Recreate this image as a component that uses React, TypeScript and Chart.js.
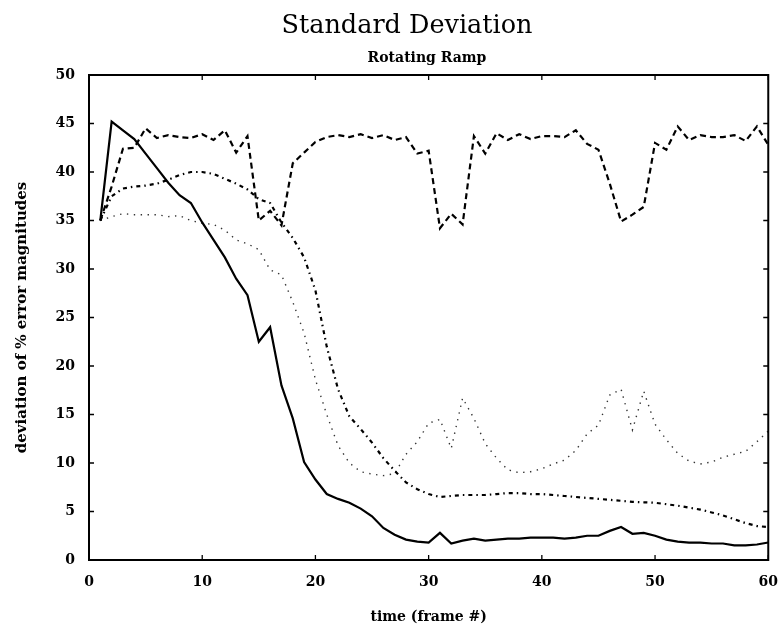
import React, { useEffect, useRef } from "react";
import { Chart, registerables } from "chart.js";

Chart.register(...registerables);

const titleText = "Standard Deviation";
const subtitleText = "Rotating Ramp";
const xAxisTitle = "time (frame #)";
const yAxisTitle = "deviation of % error magnitudes";

const frames = [
  1, 2, 3, 4, 5, 6, 7, 8, 9, 10, 11, 12, 13, 14, 15, 16, 17, 18, 19, 20,
  21, 22, 23, 24, 25, 26, 27, 28, 29, 30, 31, 32, 33, 34, 35, 36, 37, 38, 39, 40,
  41, 42, 43, 44, 45, 46, 47, 48, 49, 50, 51, 52, 53, 54, 55, 56, 57, 58, 59, 60,
];

const solidSeries = [
  35, 45.2, 44.3, 43.4, 41.9, 40.4, 38.9, 37.6, 36.8, 34.8,
  33.0, 31.2, 29.0, 27.3, 22.5, 24.0, 18.0, 14.6, 10.1, 8.3,
  6.8, 6.3, 5.9, 5.3, 4.5, 3.3, 2.6, 2.1, 1.9, 1.8,
  2.8, 1.7, 2.0, 2.2, 2.0, 2.1, 2.2, 2.2, 2.3, 2.3,
  2.3, 2.2, 2.3, 2.5, 2.5, 3.0, 3.4, 2.7, 2.8, 2.5,
  2.1, 1.9, 1.8, 1.8, 1.7, 1.7, 1.5, 1.5, 1.6, 1.8,
];

const dashedSeries = [
  35, 38.5, 42.4, 42.5, 44.5, 43.5, 43.8, 43.6, 43.5, 43.9,
  43.3, 44.3, 42.0, 43.7, 35.0, 36.0, 34.5, 40.9, 42.0, 43.1,
  43.6, 43.8, 43.6, 43.9, 43.5, 43.8, 43.3, 43.6, 41.9, 42.2,
  34.2, 35.7, 34.6, 43.7, 41.9, 44.0, 43.3, 43.9, 43.4, 43.7,
  43.7, 43.6, 44.3, 42.9, 42.3, 38.8, 34.9, 35.6, 36.4, 43.0,
  42.3, 44.7, 43.3, 43.8, 43.6, 43.6, 43.8, 43.2, 44.7, 42.8,
];

const dashDotSeries = [
  35, 37.5, 38.3, 38.5, 38.6, 38.8, 39.2, 39.7, 40.0, 40.0,
  39.8, 39.3, 38.8, 38.2, 37.2, 36.8, 34.8, 33.2, 31.2, 27.8,
  22.0, 17.6, 14.8, 13.5, 12.1, 10.5, 9.2, 8.0, 7.3, 6.8,
  6.5, 6.6, 6.7, 6.7, 6.7, 6.8, 6.9, 6.9, 6.8, 6.8,
  6.7, 6.6, 6.5, 6.4, 6.3, 6.2, 6.1, 6.0, 5.95, 5.9,
  5.75, 5.6, 5.4, 5.2, 4.9, 4.6, 4.2, 3.8, 3.5, 3.4,
];

const dottedSeries = [
  35, 35.4, 35.7, 35.6, 35.6, 35.6, 35.4, 35.5, 35.0, 34.7,
  34.6, 34.0, 33.0, 32.6, 32.0, 29.9, 29.4, 26.6, 23.4, 18.6,
  15.0, 11.8, 10.0, 9.1, 8.85, 8.7, 8.9, 10.9, 12.2, 14.1,
  14.5, 11.5, 16.7, 14.6, 12.0, 10.5, 9.3, 9.0, 9.1, 9.4,
  9.9, 10.3, 11.3, 13.0, 13.9, 17.0, 17.6, 13.4, 17.4, 14.0,
  12.4, 11.0, 10.2, 9.9, 10.1, 10.6, 10.9, 11.2, 12.2, 13.3,
];

const xTickValues = [0, 10, 20, 30, 40, 50, 60];
const yTickValues = [0, 5, 10, 15, 20, 25, 30, 35, 40, 45, 50];

const toPoints = (vals: number[]) => frames.map((f, i) => ({ x: f, y: vals[i] }));

const framePlugin = {
  id: "frameTicksTitles",
  afterDraw(chart: any) {
    const { ctx, chartArea, scales } = chart;
    const { left, right, top, bottom } = chartArea;
    const x = scales.x;
    const y = scales.y;
    ctx.save();
    ctx.strokeStyle = "#000";
    ctx.lineWidth = 2;
    ctx.strokeRect(left, top, right - left, bottom - top);
    ctx.lineWidth = 1.3;
    ctx.beginPath();
    for (const v of xTickValues) {
      const px = x.getPixelForValue(v);
      ctx.moveTo(px, bottom);
      ctx.lineTo(px, bottom - 5);
      ctx.moveTo(px, top);
      ctx.lineTo(px, top + 5);
    }
    for (const v of yTickValues) {
      const py = y.getPixelForValue(v);
      ctx.moveTo(left, py);
      ctx.lineTo(left + 5, py);
      ctx.moveTo(right, py);
      ctx.lineTo(right - 5, py);
    }
    ctx.stroke();
    ctx.fillStyle = "#000";
    ctx.textAlign = "center";
    ctx.textBaseline = "alphabetic";
    ctx.font = '25.5px "DejaVu Serif"';
    ctx.fillText(titleText, 407, 33);
    ctx.font = 'bold 14px "DejaVu Serif"';
    ctx.fillText(subtitleText, 427, 62);
    ctx.restore();
  },
};

export default function App() {
  const canvasRef = useRef<HTMLCanvasElement | null>(null);

  useEffect(() => {
    const canvas = canvasRef.current;
    if (!canvas) return;
    const chart = new Chart(canvas, {
      type: "line",
      data: {
        datasets: [
          {
            label: "solid",
            data: toPoints(solidSeries),
            borderColor: "#000",
            borderWidth: 2.2,
            pointRadius: 0,
            tension: 0,
          },
          {
            label: "dashed",
            data: toPoints(dashedSeries),
            borderColor: "#000",
            borderWidth: 2.2,
            borderDash: [6, 4],
            pointRadius: 0,
            tension: 0,
          },
          {
            label: "dashdot",
            data: toPoints(dashDotSeries),
            borderColor: "#000",
            borderWidth: 2.2,
            borderDash: [4, 4, 1.5, 4],
            pointRadius: 0,
            tension: 0,
          },
          {
            label: "dotted",
            data: toPoints(dottedSeries),
            borderColor: "#333",
            borderWidth: 1.4,
            borderDash: [1.4, 5.5],
            pointRadius: 0,
            tension: 0,
          },
        ],
      },
      options: {
        animation: false,
        responsive: false,
        maintainAspectRatio: false,
        layout: { padding: { top: 75, right: 14, left: 0, bottom: 0 } },
        plugins: {
          legend: { display: false },
          tooltip: { enabled: false },
          title: { display: false },
        },
        scales: {
          x: {
            type: "linear",
            min: 0,
            max: 60,
            afterFit: (s: any) => {
              s.height = 69;
            },
            afterBuildTicks: (s: any) => {
              s.ticks = xTickValues.map((v) => ({ value: v }));
            },
            grid: { display: false },
            border: { display: false },
            ticks: {
              padding: 6,
              color: "#000",
              font: { family: "DejaVu Serif", weight: "bold", size: 14 },
              maxRotation: 0,
            },
            title: {
              display: true,
              text: xAxisTitle,
              color: "#000",
              font: { family: "DejaVu Serif", weight: "bold", size: 14 },
              padding: { top: 0, bottom: 3 },
            },
          },
          y: {
            type: "linear",
            min: 0,
            max: 50,
            afterFit: (s: any) => {
              s.width = 89;
            },
            afterBuildTicks: (s: any) => {
              s.ticks = yTickValues.map((v) => ({ value: v }));
            },
            grid: { display: false },
            border: { display: false },
            ticks: {
              padding: 6,
              color: "#000",
              font: { family: "DejaVu Serif", weight: "bold", size: 14 },
            },
            title: {
              display: true,
              text: yAxisTitle,
              color: "#000",
              font: { family: "DejaVu Serif", weight: "bold", size: 15 },
              padding: { top: 13, bottom: 0 },
            },
          },
        },
      },
      plugins: [framePlugin],
    });
    return () => chart.destroy();
  }, []);

  return (
    <div style={{ position: "fixed", left: 0, top: 0, width: 784, height: 629, background: "#fff" }}>
      <canvas ref={canvasRef} width={784} height={629} style={{ width: 784, height: 629, display: "block" }} />
    </div>
  );
}
